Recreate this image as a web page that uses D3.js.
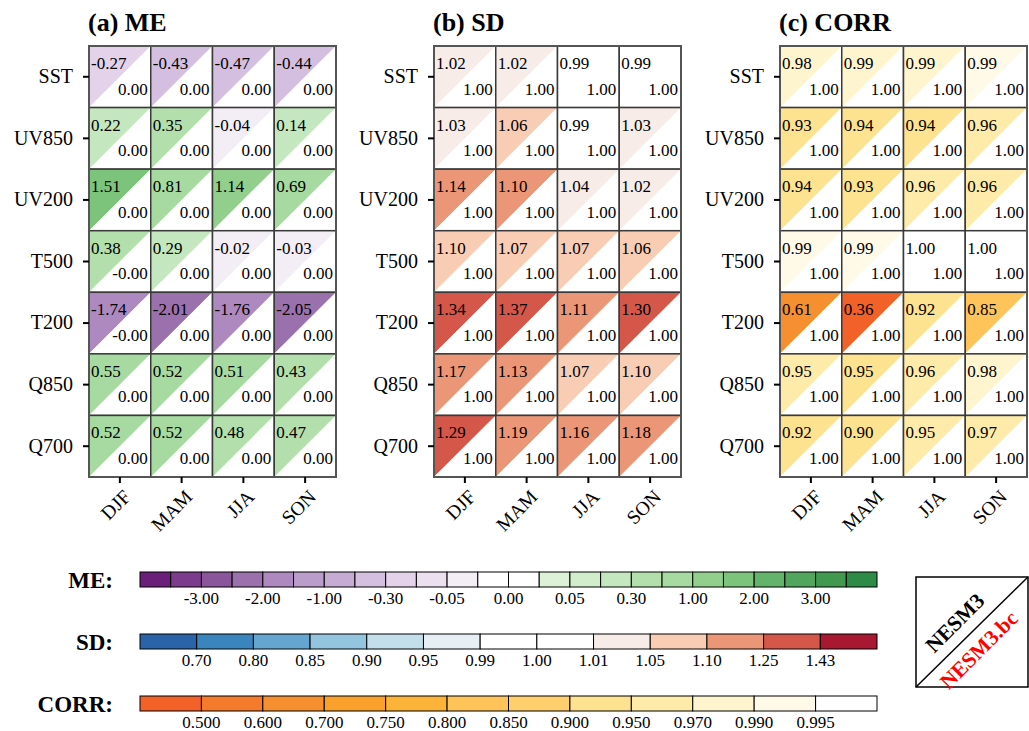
<!DOCTYPE html>
<html>
<head>
<meta charset="utf-8">
<script src="https://cdn.jsdelivr.net/npm/d3@7"></script>
<style>
body { margin: 0; background: #fff; }
svg { font-family: "Liberation Serif", "Times New Roman", serif; }
</style>
</head>
<body>
<svg id="chart" width="1029" height="731"></svg>
<script>
const seasons = ['DJF', 'MAM', 'JJA', 'SON'];
const variables = ['SST', 'UV850', 'UV200', 'T500', 'T200', 'Q850', 'Q700'];

// model (upper-left triangle) and bias-corrected (lower-right triangle)
const meModel = [
    [-0.27, -0.43, -0.47, -0.44],
    [0.22, 0.35, -0.04, 0.14],
    [1.51, 0.81, 1.14, 0.69],
    [0.38, 0.29, -0.02, -0.03],
    [-1.74, -2.01, -1.76, -2.05],
    [0.55, 0.52, 0.51, 0.43],
    [0.52, 0.52, 0.48, 0.47]
];
const meBc = [
    [0, 0, 0, 0],
    [0, 0, 0, 0],
    [0, 0, 0, 0],
    [-0.001, 0, 0, 0],
    [-0.001, 0, 0, 0],
    [0, 0, 0, 0],
    [0, 0, 0, 0]
];
const sdModel = [
    [1.02, 1.02, 0.99, 0.99],
    [1.03, 1.06, 0.99, 1.03],
    [1.14, 1.102, 1.04, 1.02],
    [1.098, 1.07, 1.07, 1.06],
    [1.34, 1.37, 1.11, 1.30],
    [1.17, 1.13, 1.07, 1.098],
    [1.29, 1.19, 1.16, 1.18]
];
const sdBc = [
    [1, 1, 1, 1], [1, 1, 1, 1], [1, 1, 1, 1], [1, 1, 1, 1],
    [1, 1, 1, 1], [1, 1, 1, 1], [1, 1, 1, 1]
];
const corrModel = [
    [0.98, 0.988, 0.988, 0.991],
    [0.93, 0.94, 0.94, 0.96],
    [0.94, 0.93, 0.96, 0.96],
    [0.991, 0.991, 1.00, 1.00],
    [0.61, 0.36, 0.92, 0.848],
    [0.95, 0.949, 0.96, 0.98],
    [0.92, 0.90, 0.95, 0.968]
];
const corrBc = [
    [1, 1, 1, 1], [1, 1, 1, 1], [1, 1, 1, 1], [1, 1, 1, 1],
    [1, 1, 1, 1], [1, 1, 1, 1], [1, 1, 1, 1]
];

// colour levels
const meBounds = [-4, -3, -2.5, -2, -1.5, -1, -0.5, -0.3, -0.1, -0.05, -0.01, 0,
    0.01, 0.05, 0.1, 0.3, 0.5, 1, 1.5, 2, 2.5, 3, 4];
const meTicks = [-3, -2, -1, -0.3, -0.05, 0, 0.05, 0.3, 1, 2, 3];
const meColors = ['#6b1f7b', '#7c3b8c', '#8a559b', '#9b71ad', '#ad89bf', '#bb9dcb',
    '#c6acd5', '#d5bfe0', '#e3d2e9', '#ecdff0', '#f3eef6', '#ffffff', '#ffffff',
    '#dcf1d7', '#d1edcc', '#c5e7bf', '#b2dfac', '#a6daa1', '#92cf8c', '#7cc37b',
    '#63b36a', '#52a55d', '#419950', '#2d8a47'];
const sdBounds = [0.70, 0.80, 0.85, 0.90, 0.95, 0.99, 1.00, 1.01, 1.05, 1.10, 1.25, 1.43];
const sdColors = ['#2a63a8', '#3a85bd', '#64a6cf', '#94c5df', '#c4dfec', '#e6eff4',
    '#ffffff', '#ffffff', '#f7ece7', '#f9ccb4', '#eb9777', '#d4574a', '#a81830'];
const corrBounds = [0.500, 0.600, 0.700, 0.750, 0.800, 0.850, 0.900, 0.950, 0.970, 0.990, 0.995];
const corrColors = ['#f16128', '#f47b2b', '#f68f2f', '#f9a02d', '#fcb33a', '#fec45a',
    '#fecf6c', '#fde28f', '#feeba9', '#fef5cf', '#fffae7', '#ffffff'];

const panelTitles = ['(a) ME', '(b) SD', '(c) CORR'];
const legendNames = ['NESM3', 'NESM3.bc'];

const panels = [
    {title: panelTitles[0], model: meModel, bc: meBc, bounds: meBounds, colors: meColors},
    {title: panelTitles[1], model: sdModel, bc: sdBc, bounds: sdBounds, colors: sdColors},
    {title: panelTitles[2], model: corrModel, bc: corrBc, bounds: corrBounds, colors: corrColors}
];

const panelLeft = [89, 434, 780];
const gridTop = 46;
const gridW = 247;
const gridH = 431;

const svg = d3.select('#chart');

const x = d3.scaleBand().domain(seasons).range([0, gridW]);
const y = d3.scaleBand().domain(variables).range([0, gridH]);
const w = x.bandwidth();
const h = y.bandwidth();

panels.forEach((p, i) => {
    const color = d3.scaleThreshold().domain(p.bounds).range(p.colors);
    const g = svg.append('g')
        .attr('transform', `translate(${panelLeft[i]},${gridTop})`);

    g.append('text')
        .attr('x', -1)
        .attr('y', -15)
        .attr('font-size', 26)
        .attr('font-weight', 'bold')
        .text(p.title);

    const cells = [];
    variables.forEach((v, r) => seasons.forEach((s, c) => {
        cells.push({v, s, m: p.model[r][c], b: p.bc[r][c]});
    }));

    const cell = g.selectAll('.cell')
        .data(cells)
        .enter()
        .append('g')
        .attr('class', 'cell')
        .attr('transform', d => `translate(${x(d.s)},${y(d.v)})`);

    cell.append('path')
        .attr('d', `M0,0H${w}L0,${h}Z`)
        .attr('fill', d => color(d.m));
    cell.append('path')
        .attr('d', `M${w},0V${h}H0Z`)
        .attr('fill', d => color(d.b));
    cell.append('rect')
        .attr('width', w)
        .attr('height', h)
        .attr('fill', 'none')
        .attr('stroke', '#3a3a3a')
        .attr('stroke-width', 1.5);
    cell.append('text')
        .attr('x', 2)
        .attr('y', 23)
        .attr('font-size', 17)
        .text(d => d.m.toFixed(2));
    cell.append('text')
        .attr('x', w - 3)
        .attr('y', 48.5)
        .attr('text-anchor', 'end')
        .attr('font-size', 17)
        .text(d => d.b.toFixed(2));

    g.append('rect')
        .attr('width', gridW)
        .attr('height', gridH)
        .attr('fill', 'none')
        .attr('stroke', '#555')
        .attr('stroke-width', 2);

    // AXES
    const yAxis = g.append('g')
        .call(d3.axisLeft(y).tickSize(6).tickPadding(10));
    yAxis.select('.domain').remove();
    yAxis.selectAll('line').attr('stroke', '#000').attr('stroke-width', 2);
    yAxis.selectAll('text')
        .attr('font-size', 20)
        .attr('font-family', '"Liberation Serif", serif')
        .attr('fill', '#000');

    const xAxis = g.append('g')
        .attr('transform', `translate(0,${gridH})`)
        .call(d3.axisBottom(x).tickSize(6));
    xAxis.select('.domain').remove();
    xAxis.selectAll('line').attr('stroke', '#000').attr('stroke-width', 2);
    xAxis.selectAll('text')
        .attr('y', 0)
        .attr('dy', 0)
        .attr('text-anchor', 'end')
        .attr('transform', 'translate(12,21) rotate(-45)')
        .attr('font-size', 19.5)
        .attr('font-family', '"Liberation Serif", serif')
        .attr('fill', '#000');
});

// COLOURBARS
const barLeft = 140;
const barRight = 877;

function colorbar (top, name, bounds, colors, ticks, digits) {
    const cx = d3.scaleLinear().domain([0, colors.length]).range([barLeft, barRight]);
    const g = svg.append('g');
    g.append('text')
        .attr('x', 113)
        .attr('y', top + 16)
        .attr('text-anchor', 'end')
        .attr('font-size', 23)
        .attr('font-weight', 'bold')
        .text(name);
    g.selectAll('.bin')
        .data(colors)
        .enter()
        .append('rect')
        .attr('class', 'bin')
        .attr('x', (d, k) => cx(k))
        .attr('y', top)
        .attr('width', cx(1) - cx(0))
        .attr('height', 15)
        .attr('fill', d => d)
        .attr('stroke', '#000')
        .attr('stroke-width', 1);
    g.selectAll('.tickLabel')
        .data(ticks)
        .enter()
        .append('text')
        .attr('class', 'tickLabel')
        .attr('x', d => cx(bounds.indexOf(d) + 1))
        .attr('y', top + 32)
        .attr('text-anchor', 'middle')
        .attr('font-size', 17)
        .text(d => d.toFixed(digits));
}

colorbar(572, 'ME:', meBounds, meColors, meTicks, 2);
colorbar(634, 'SD:', sdBounds, sdColors, sdBounds, 2);
colorbar(696, 'CORR:', corrBounds, corrColors, corrBounds, 3);

// LEGEND
const legend = svg.append('g').attr('transform', 'translate(916,577)');
legend.append('rect')
    .attr('width', 112)
    .attr('height', 110)
    .attr('fill', '#fff')
    .attr('stroke', '#000')
    .attr('stroke-width', 1.5);
legend.append('line')
    .attr('x1', 0).attr('y1', 110)
    .attr('x2', 112).attr('y2', 0)
    .attr('stroke', '#000')
    .attr('stroke-width', 1.5);
legend.append('text')
    .attr('transform', 'translate(44,51) rotate(-45)')
    .attr('text-anchor', 'middle')
    .attr('font-size', 21.5)
    .attr('font-weight', 'bold')
    .attr('fill', '#000')
    .text(legendNames[0]);
legend.append('text')
    .attr('transform', 'translate(68,78) rotate(-45)')
    .attr('text-anchor', 'middle')
    .attr('font-size', 21.5)
    .attr('font-weight', 'bold')
    .attr('fill', '#ff0000')
    .text(legendNames[1]);
</script>
</body>
</html>
